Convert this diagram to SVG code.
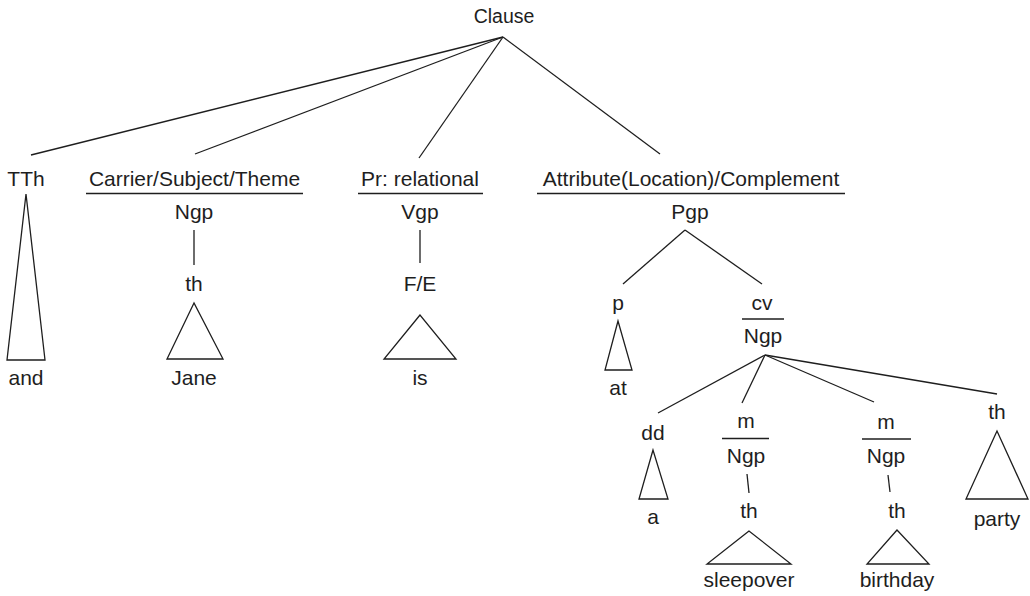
<svg xmlns="http://www.w3.org/2000/svg" width="1030" height="596" viewBox="0 0 1030 596">
<style>
text{font-family:"Liberation Sans",Arial,sans-serif;font-size:21px;fill:#1e1e1e;text-anchor:middle}
.ln{stroke:#1e1e1e;stroke-width:1.3;fill:none}
.tri{stroke:#1e1e1e;stroke-width:1.3;fill:none;stroke-linejoin:miter}
</style>
<rect width="1030" height="596" fill="#fff"/>
<g id="connectors" class="ln">
<line x1="503" y1="37" x2="31" y2="155"/>
<line x1="503" y1="37" x2="195" y2="154"/>
<line x1="503" y1="37" x2="419" y2="158"/>
<line x1="503" y1="37" x2="660" y2="154"/>
<line x1="194" y1="230" x2="194" y2="265"/>
<line x1="420" y1="230" x2="420" y2="263"/>
<line x1="685" y1="230" x2="623" y2="284"/>
<line x1="685" y1="230" x2="762" y2="284"/>
<line x1="765" y1="355" x2="658" y2="413"/>
<line x1="765" y1="355" x2="742" y2="403"/>
<line x1="765" y1="355" x2="874" y2="402"/>
<line x1="765" y1="355" x2="997" y2="394"/>
<line x1="747" y1="474" x2="749" y2="493"/>
<line x1="888" y1="475" x2="890" y2="492"/>
</g>
<g id="clause"><text x="504" y="23" style="font-size:19.5px">Clause</text></g>
<g id="tth">
<text x="26" y="186">TTh</text>
<polygon class="tri" points="26,194 7,360 45,360"/>
<text x="26" y="385">and</text>
</g>
<g id="carrier">
<text x="194.5" y="186">Carrier/Subject/Theme</text>
<line class="ln" x1="86" y1="193.5" x2="303" y2="193.5"/>
<text x="194" y="219">Ngp</text>
</g>
<g id="th-jane">
<text x="194" y="291">th</text>
<polygon class="tri" points="194,303 167,359 223,359"/>
<text x="194" y="385">Jane</text>
</g>
<g id="pr">
<text x="420" y="186">Pr: relational</text>
<line class="ln" x1="358" y1="193.5" x2="483" y2="193.5"/>
<text x="420" y="219">Vgp</text>
</g>
<g id="fe">
<text x="420" y="291">F/E</text>
<polygon class="tri" points="420,315 384,359 456,359"/>
<text x="420" y="385">is</text>
</g>
<g id="attribute">
<text x="691" y="186">Attribute(Location)/Complement</text>
<line class="ln" x1="537" y1="193.5" x2="845" y2="193.5"/>
<text x="690" y="219">Pgp</text>
</g>
<g id="p">
<text x="618" y="310">p</text>
<polygon class="tri" points="618,321 605,370 632,370"/>
<text x="618" y="395">at</text>
</g>
<g id="cv">
<text x="762" y="310">cv</text>
<line class="ln" x1="742" y1="319" x2="784" y2="319"/>
<text x="763" y="343">Ngp</text>
</g>
<g id="dd">
<text x="653" y="440">dd</text>
<polygon class="tri" points="653,450 639,499 668,499"/>
<text x="653" y="524">a</text>
</g>
<g id="m1">
<text x="746" y="428">m</text>
<line class="ln" x1="722" y1="438.5" x2="769" y2="438.5"/>
<text x="746" y="463">Ngp</text>
</g>
<g id="th-sleepover">
<text x="749" y="518">th</text>
<polygon class="tri" points="749,531 707,564 791,564"/>
<text x="749" y="587">sleepover</text>
</g>
<g id="m2">
<text x="886" y="429">m</text>
<line class="ln" x1="862" y1="439" x2="911" y2="439"/>
<text x="886" y="463">Ngp</text>
</g>
<g id="th-birthday">
<text x="897" y="518">th</text>
<polygon class="tri" points="897,530 867,564 929,564"/>
<text x="897" y="587">birthday</text>
</g>
<g id="th-party">
<text x="997" y="419">th</text>
<polygon class="tri" points="997,431 966,499 1028,499"/>
<text x="997" y="526">party</text>
</g>
</svg>
